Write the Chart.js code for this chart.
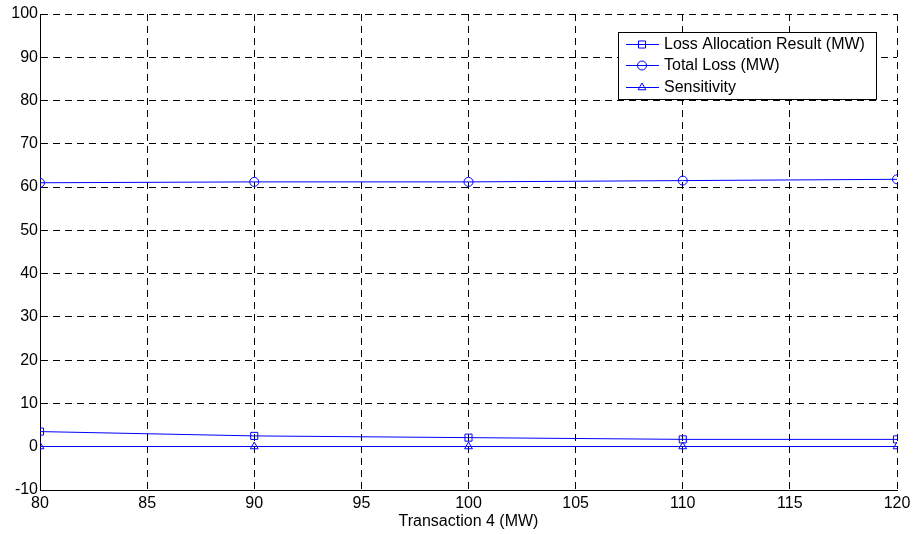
<!DOCTYPE html>
<html>
<head>
<meta charset="utf-8">
<script src="https://cdn.jsdelivr.net/npm/chart.js@4/dist/chart.umd.min.js"></script>
<style>
  html, body { margin: 0; padding: 0; background: #fff; }
  #wrap { width: 915px; height: 534px; }
</style>
</head>
<body>
<div id="wrap"><canvas id="chart"></canvas></div>
<script>
// data //
const transaction = [80, 90, 100, 110, 120];
const lossAllocation = [3.5, 2.5, 2.1, 1.7, 1.7];
const totalLoss = [61.0, 61.2, 61.2, 61.5, 61.8];
const sensitivity = [0.05, 0.05, 0.05, 0.05, 0.05];
const xTicks = [80, 85, 90, 95, 100, 105, 110, 115, 120];
const yTicks = [-10, 0, 10, 20, 30, 40, 50, 60, 70, 80, 90, 100];

const FONT = 'Liberation Sans, Arial, sans-serif';
const BLUE = '#0000ff';

const toPoints = (vals) => transaction.map((x, i) => ({ x: x, y: vals[i] }));

const series = (label, vals, style) => ({
    label: label,
    data: toPoints(vals),
    borderColor: BLUE,
    backgroundColor: 'rgba(0,0,0,0)',
    borderWidth: 1,
    pointStyle: style,
    pointRadius: style === 'rect' ? 5 : 4.5,
    pointBorderColor: BLUE,
    pointBackgroundColor: 'rgba(0,0,0,0)',
    pointBorderWidth: 1,
    tension: 0
});

// matlab style legend box //
const boxLegend = {
    id: 'boxLegend',
    afterDraw(chart) {
        const ctx = chart.ctx;
        const x0 = 618, y0 = 32, w = 258, h = 67;
        ctx.save();
        ctx.fillStyle = '#fff';
        ctx.fillRect(x0, y0, w, h);
        ctx.strokeStyle = '#000';
        ctx.lineWidth = 1;
        ctx.strokeRect(x0 + 0.5, y0 + 0.5, w, h);
        const rows = [44, 65, 87];
        chart.data.datasets.forEach((ds, i) => {
            const y = rows[i];
            ctx.strokeStyle = BLUE;
            ctx.lineWidth = 1;
            ctx.beginPath();
            ctx.moveTo(626, y + 0.5);
            ctx.lineTo(659, y + 0.5);
            ctx.stroke();
            ctx.strokeStyle = BLUE;
            ctx.fillStyle = 'rgba(0,0,0,0)';
            Chart.helpers.drawPoint(ctx, {
                pointStyle: ds.pointStyle,
                radius: ds.pointRadius,
                borderWidth: 1,
                rotation: 0
            }, 642, y + 0.5);
            ctx.fillStyle = '#000';
            ctx.font = '16px ' + FONT;
            ctx.textBaseline = 'middle';
            ctx.textAlign = 'left';
            ctx.fillText(ds.label, 664, y + 1);
        });
        ctx.restore();
    }
};

const chart = document.querySelector('#chart').getContext('2d');

new Chart(chart, {
    type: 'line',
    data: {
        datasets: [
            series('Loss Allocation Result (MW)', lossAllocation, 'rect'),
            series('Total Loss (MW)', totalLoss, 'circle'),
            series('Sensitivity', sensitivity, 'triangle')
        ]
    },
    options: {
        responsive: true,
        maintainAspectRatio: false,
        animation: false,
        layout: { padding: { top: 14, right: 18, left: 0, bottom: 0 } },
        plugins: {
            legend: { display: false },
            tooltip: { enabled: false }
        },
        scales: {
            x: {
                type: 'linear',
                min: 80,
                max: 120,
                afterBuildTicks: (axis) => { axis.ticks = xTicks.map(v => ({ value: v })); },
                afterFit: (axis) => { axis.height = 44; },
                ticks: { color: '#000', font: { family: FONT, size: 16 }, padding: 4, maxRotation: 0 },
                grid: { color: '#000', lineWidth: 1, drawTicks: false },
                border: { display: true, color: '#000', width: 1, dash: [7, 5] },
                title: {
                    display: true,
                    text: 'Transaction 4 (MW)',
                    color: '#000',
                    font: { family: FONT, size: 16 },
                    padding: { top: 0, bottom: 3 }
                }
            },
            y: {
                type: 'linear',
                min: -10,
                max: 100,
                afterBuildTicks: (axis) => { axis.ticks = yTicks.map(v => ({ value: v })); },
                afterFit: (axis) => { axis.width = 40; },
                ticks: { color: '#000', font: { family: FONT, size: 16 }, padding: 2 },
                grid: { color: '#000', lineWidth: 1, drawTicks: false },
                border: { display: true, color: '#000', width: 1, dash: [7, 5] }
            }
        }
    },
    plugins: [boxLegend]
});
</script>
</body>
</html>
